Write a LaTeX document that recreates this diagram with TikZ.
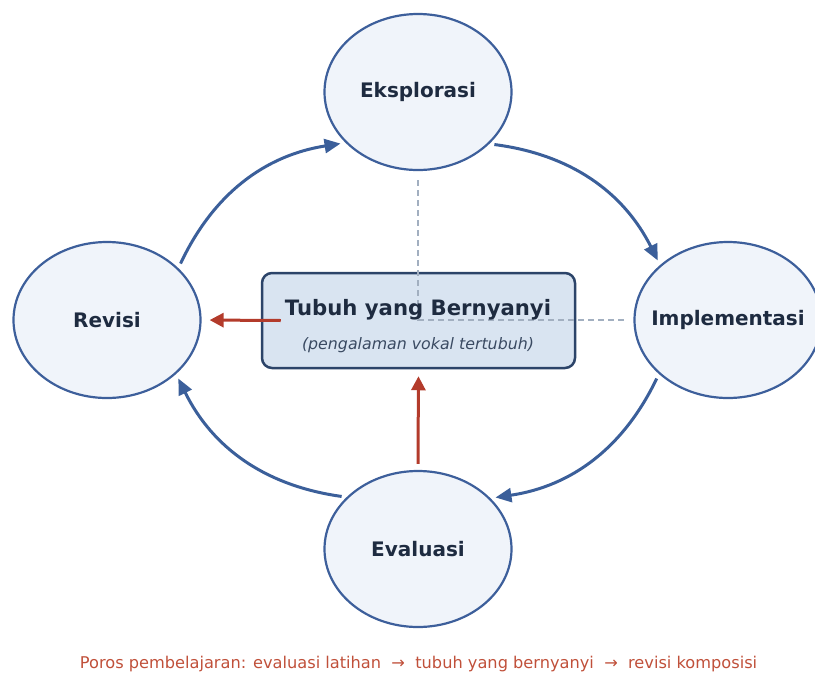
\documentclass[tikz,border=0pt]{standalone}
\usepackage{fontspec}
\setmainfont{DejaVu Sans}
\usetikzlibrary{arrows.meta,shapes.geometric}
\definecolor{stagefill}{HTML}{F0F4FA}
\definecolor{stageedge}{HTML}{3D5F9B}
\definecolor{ink}{HTML}{1E2B40}
\definecolor{boxfill}{HTML}{D9E4F1}
\definecolor{boxedge}{HTML}{2C4469}
\definecolor{flow}{HTML}{3B5F9A}
\definecolor{accent}{HTML}{B33B2B}
\definecolor{captred}{HTML}{C0503A}
\definecolor{guidegray}{HTML}{A2AFC0}
\definecolor{subink}{HTML}{3A4A62}
% label with no width of its own, so every ellipse keeps one fixed size
\newcommand{\stagelabel}[1]{\makebox[0pt]{#1}}
\begin{document}
\begin{tikzpicture}[x=1pt,y=-1pt,
  stage/.style={ellipse, draw=stageedge, fill=stagefill, line width=2.2pt,
    minimum width=187pt, minimum height=156pt, inner sep=0pt, text=ink,
    font=\fontsize{20}{24}\selectfont\bfseries},
  cycle/.style={draw=flow, line width=3pt, -{Triangle[length=16pt,width=14pt]}},
  axis/.style={draw=accent, line width=3pt, -{Triangle[length=14pt,width=14pt]}},
  guide/.style={draw=guidegray, line width=1.5pt, dash pattern=on 6pt off 4pt},
  core/.style={draw=boxedge, fill=boxfill, rounded corners=10pt, line width=2.5pt,
    minimum width=313pt, minimum height=95pt, inner sep=0pt}]
\useasboundingbox (0,0) rectangle (815,673);
\clip (0,0) rectangle (815,673);

% the four stages of the cycle
\node[stage] (eks) at (418,92) {\stagelabel{Eksplorasi}};
\node[stage] (rev) at (107,320) {\stagelabel{Revisi}};
\node[stage] (imp) at (728,320) {\stagelabel{Implementasi}};
\node[stage] (eva) at (418,549) {\stagelabel{Evaluasi}};

% central box
\node[core] (core) at (418.5,320.5) {};

% guide lines through the centre
\coordinate (gtop) at (418,180);
\coordinate (hub) at (418,320);
\coordinate (gright) at (625,320);
\draw[guide] (gtop) -- (hub) -- (gright);

\node[text=ink, font=\fontsize{21.2}{25}\selectfont\bfseries] (title) at (418,310) {Tubuh yang Bernyanyi};
\node[text=subink, font=\fontsize{15.8}{19}\selectfont\itshape] (sub) at (418,345) {(pengalaman vokal tertubuh)};

% cycle arrows
\draw[cycle, shorten <=5pt, shorten >=5pt] (rev.36) to[bend left=28] (eks.215);
\draw[cycle, shorten <=5pt, shorten >=5pt] (eks.324) to[bend left=28] (imp.141);
\draw[cycle, shorten <=5pt, shorten >=5pt] (imp.218) to[bend left=28] (eva.35);
\draw[cycle, shorten <=5pt, shorten >=5pt] (eva.144) to[bend left=28] (rev.322);

% learning axis
\draw[axis, shorten >=8pt] ([xshift=20pt]core.west) -- (rev.east);
\draw[axis, shorten >=7pt] ([yshift=6pt]eva.north) -- (core.south);

\node[text=captred, font=\fontsize{16.2}{19}\selectfont, anchor=base] (caption) at (418.5,668)
  {Poros pembelajaran: evaluasi latihan~~→~~tubuh yang bernyanyi~~→~~revisi komposisi};
\end{tikzpicture}
\end{document}
